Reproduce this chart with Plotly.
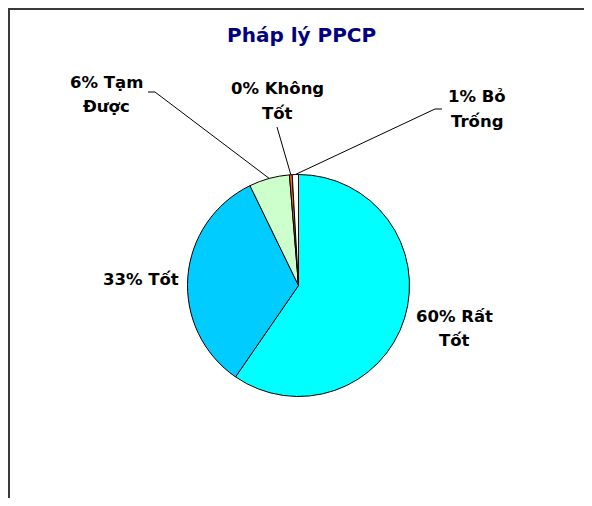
import math
import plotly.graph_objects as go

# ---- data ----
categories = ["Rất Tốt", "Tốt", "Tạm Được", "Không Tốt", "Bỏ Trống"]
values = [59.6, 33.2, 5.9, 0.4, 0.9]
colors = ["#00FFFF", "#00CCFF", "#CCFFCC", "#FF6600", "#FFFFFF"]
title_text = "Pháp lý PPCP"

# ---- layout constants (screen pixels) ----
OFF = 8                      # page body margin
W, H = 592 - 2 * OFF, 506 - 2 * OFF
CX, CY, R = 298.5, 285.5, 111.0
FONT = "DejaVu Sans"
LABEL_SIZE = 16.5
LINE_GAP = 24.5

# label line-1 centre positions
label_pos = {
    "Rất Tốt": (454, 316),
    "Tốt": (140.5, 279.5),
    "Tạm Được": (106, 82),
    "Không Tốt": (277, 89),
    "Bỏ Trống": (477, 97),
}
# leader-line anchor points on the label side
leader_anchor = {
    "Tạm Được": [(148, 92), (155, 92)],
    "Không Tốt": [(277, 127)],
    "Bỏ Trống": [(442, 109), (435, 109)],
}


def px_to_paper(x, y):
    return (x - OFF) / W, 1 - (y - OFF) / H


fig = go.Figure()
dx0, dy1 = px_to_paper(CX - R, CY - R)
dx1, dy0 = px_to_paper(CX + R, CY + R)
fig.add_trace(go.Pie(
    labels=categories,
    values=values,
    sort=False,
    direction="clockwise",
    rotation=0,
    marker=dict(colors=colors, line=dict(color="#000000", width=1)),
    textinfo="none",
    hoverinfo="label+percent",
    showlegend=False,
    domain=dict(x=[dx0, dx1], y=[dy0, dy1]),
))

total = sum(values)
annotations = []
shapes = []
cum = 0.0
for cat, v in zip(categories, values):
    pct = round(v / total * 100)
    words = cat.split(" ")
    lines = [f"{pct}% {words[0]}"]
    if len(words) > 1:
        lines.append(" ".join(words[1:]))
    lx, ly = label_pos[cat]
    for i, ln in enumerate(lines):
        px, py = px_to_paper(lx, ly + i * LINE_GAP)
        annotations.append(dict(
            x=px, y=py, xref="paper", yref="paper", text=ln, showarrow=False,
            xanchor="center", yanchor="middle",
            font=dict(family=FONT, size=LABEL_SIZE, color="#000000", weight="bold"),
        ))
    # slice mid-angle point on the pie edge (clockwise from 12 o'clock)
    mid = (cum + v / 2) / total * 2 * math.pi
    tx = CX + R * math.sin(mid)
    ty = CY - R * math.cos(mid)
    cum += v
    if cat in leader_anchor:
        pts = leader_anchor[cat] + [(tx, ty)]
        ppts = [px_to_paper(x, y) for x, y in pts]
        path = "M " + " L ".join(f"{x:.5f},{y:.5f}" for x, y in ppts)
        shapes.append(dict(type="path", path=path, xref="paper", yref="paper",
                           line=dict(color="#000000", width=1)))

# title
tx_, ty_ = px_to_paper(301.5, 35)
annotations.append(dict(
    x=tx_, y=ty_, xref="paper", yref="paper", text=title_text, showarrow=False,
    xanchor="center", yanchor="middle",
    font=dict(family=FONT, size=20, color="#000080", weight="bold"),
))

# chart frame (only left and top edges are visible)
fl, ft = 1.0 / W, 1 - 1.0 / H
shapes.append(dict(type="path", xref="paper", yref="paper",
                   path=f"M {fl:.5f},-0.2 L {fl:.5f},{ft:.5f} L 1.2,{ft:.5f}",
                   line=dict(color="#3a3a3a", width=2)))

fig.update_layout(
    width=W, height=H,
    margin=dict(l=0, r=0, t=0, b=0),
    paper_bgcolor="#FFFFFF",
    plot_bgcolor="#FFFFFF",
    annotations=annotations,
    shapes=shapes,
    showlegend=False,
)

fig.write_html("out.html")
